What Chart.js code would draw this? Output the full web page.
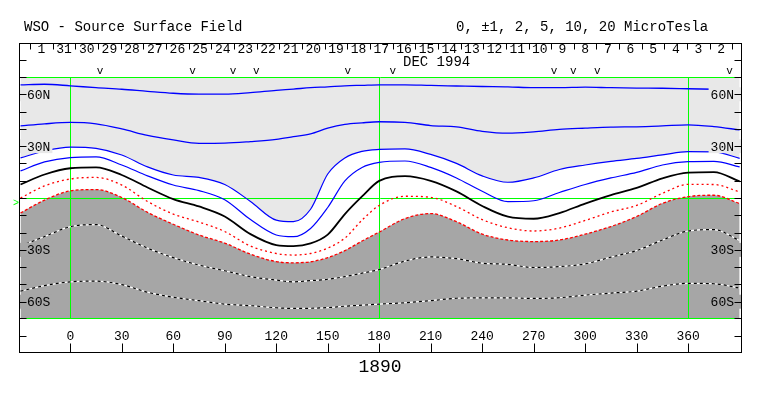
<!DOCTYPE html>
<html>
<head>
<meta charset="utf-8">
<script src="https://cdn.jsdelivr.net/npm/chart.js@4/dist/chart.umd.min.js"></script>
<style>
html, body { margin: 0; padding: 0; background: #fff; }
canvas { display: block; }
</style>
</head>
<body>
<canvas id="myChart" width="763" height="396"></canvas>
<script>
var lon = [-29, -15, 0, 15, 30, 45, 60, 75, 90, 105, 120, 130, 140, 150, 160, 170, 180,
           195, 210, 225, 240, 255, 270, 285, 300, 315, 330, 345, 360, 375, 390];

// Contour latitudes (degrees), north to south
var blueA = [65.5, 65.8, 64.9, 63.8, 62.9, 61.7, 60.6, 60.1, 60.1, 61.0, 62.3, 63.0, 63.8, 64.3, 64.9, 65.2, 65.5,
             65.5, 65.1, 64.8, 64.5, 64.3, 63.8, 63.8, 64.1, 63.8, 63.6, 63.5, 63.2, 62.9, 62.6];
var blueB = [41.7, 42.9, 43.7, 42.9, 40.0, 36.2, 33.6, 31.6, 31.7, 32.6, 33.9, 35.5, 37.1, 40.4, 42.6, 43.5, 44.1,
             43.8, 41.9, 41.2, 38.6, 37.5, 38.3, 39.7, 40.4, 41.0, 41.2, 41.7, 42.3, 41.3, 39.4];
var blueC = [23.2, 27.2, 29.4, 28.7, 24.9, 18.0, 13.3, 11.9, 7.8, -2.0, -12.8, -13.7, -6.5, 13.9, 23.2, 27.0, 28.1,
             28.4, 25.2, 20.0, 12.8, 9.1, 11.6, 16.5, 19.1, 21.2, 22.9, 24.9, 26.8, 26.7, 22.9];
var blueD = [15.7, 20.9, 23.4, 23.8, 19.1, 12.8, 7.5, 4.3, -1.0, -12.5, -21.4, -22.4, -17.6, -5.5, 9.9, 17.7, 20.6,
             21.4, 17.7, 11.6, 3.9, -2.1, -1.6, 3.2, 7.8, 11.6, 14.8, 19.1, 21.0, 21.2, 18.0];
var neutral = [7.8, 13.6, 17.2, 17.7, 13.3, 6.1, -0.6, -4.9, -10.7, -20.9, -27.2, -27.8, -26.3, -21.2, -9.3, 0.9, 9.9,
               12.6, 9.9, 3.8, -4.6, -10.8, -12.0, -8.7, -3.2, 1.7, 5.8, 11.4, 14.7, 15.0, 9.6];
var redA = [0.0, 7.0, 11.0, 11.9, 7.5, -2.0, -9.3, -13.9, -19.4, -27.8, -32.1, -33.0, -32.1, -29.0, -23.2, -12.8, -4.3,
            1.0, 0.4, -4.9, -12.5, -17.2, -19.1, -17.4, -13.0, -8.1, -4.3, 2.7, 7.9, 7.8, 3.5];
var redB = [-8.7, -1.2, 4.1, 4.9, 0.3, -8.3, -15.2, -21.4, -26.1, -32.5, -36.8, -37.5, -36.9, -34.5, -30.4, -24.9, -19.7,
            -11.9, -9.0, -13.7, -20.9, -24.3, -25.2, -24.3, -20.9, -16.5, -10.7, -3.1, 0.8, 1.6, -3.2];
var southA = [-27.8, -22.3, -16.6, -15.4, -22.0, -29.0, -34.5, -38.8, -42.1, -45.5, -47.5, -48.5, -47.8, -47.0, -45.5, -43.5, -41.4,
              -36.5, -34.1, -35.1, -37.7, -38.4, -40.2, -39.7, -38.1, -34.2, -30.4, -24.3, -19.1, -18.3, -24.6];
var southB = [-53.9, -50.7, -48.5, -48.1, -50.1, -54.5, -57.4, -59.4, -61.4, -62.3, -63.5, -63.9, -63.8, -63.4, -62.6, -62.0, -61.4,
              -60.6, -59.4, -58.0, -57.8, -57.8, -58.1, -57.7, -56.2, -55.0, -53.9, -51.0, -49.4, -49.6, -52.1];

// observation markers ("v") along the top
var markLon = [17.3, 71.2, 94.8, 108.4, 161.7, 187.9, 281.9, 293.1, 307.1, 384.1];

// day-of-month labels for the rotation (right to left in time)
var dayLabels = ['1', '31', '30', '29', '28', '27', '26', '25', '24', '23', '22', '21', '20', '19', '18', '17',
                 '16', '15', '14', '13', '12', '11', '10', '9', '8', '7', '6', '5', '4', '3', '2'];
var dayStartLon = -23.4;
var dayWidth = 13.2;

var lonTicks = [0, 30, 60, 90, 120, 150, 180, 210, 240, 270, 300, 330, 360];
var latLabels = ['60N', '30N', '30S', '60S'];
var latLabelVals = [60, 30, -30, -60];
var gridLon = [0, 180, 360];
var gridLat = [70, 0, -70];

var LIGHT = '#e8e8e8';
var DARK = '#a6a6a6';
var MONO = '"Liberation Mono", "DejaVu Sans Mono", monospace';

function pts(lat) {
    return lon.map(function(l, i) { return { x: l, y: lat[i] }; });
}

function contour(lat, color, width, dash, fill, bg) {
    return {
        data: pts(lat),
        borderColor: color,
        borderWidth: width,
        borderDash: dash || [],
        fill: fill || false,
        backgroundColor: bg || 'transparent',
        pointRadius: 0,
        cubicInterpolationMode: 'monotone'
    };
}

var decor = {
    id: 'decor',
    beforeDatasetsDraw: function(chart) {
        var ctx = chart.ctx, xs = chart.scales.x, ys = chart.scales.y, a = chart.chartArea;
        ctx.save();
        ctx.strokeStyle = '#00ff00';
        ctx.lineWidth = 1;
        ctx.beginPath();
        gridLon.forEach(function(v) {
            var px = Math.round(xs.getPixelForValue(v)) + 0.5;
            ctx.moveTo(px, a.top); ctx.lineTo(px, a.bottom);
        });
        gridLat.forEach(function(v) {
            var py = Math.round(ys.getPixelForValue(v)) + 0.5;
            py = Math.min(Math.max(py, a.top + 0.5), a.bottom - 0.5);
            ctx.moveTo(a.left, py); ctx.lineTo(a.right, py);
        });
        ctx.stroke();
        ctx.restore();
    },
    afterDraw: function(chart) {
        var ctx = chart.ctx, xs = chart.scales.x, ys = chart.scales.y, a = chart.chartArea;
        var L = a.left - 0.5, R = a.right + 0.5, T = 43.5, B = 352.5;
        ctx.save();

        // latitude labels with masks, both sides
        ctx.font = '13px ' + MONO;
        ctx.textBaseline = 'middle';
        latLabels.forEach(function(t, i) {
            var py = ys.getPixelForValue(latLabelVals[i]);
            var w = ctx.measureText(t).width;
            ctx.fillStyle = latLabelVals[i] > 0 ? LIGHT : DARK;
            ctx.fillRect(a.left, py - 7, w + 9, 14);
            ctx.fillRect(a.right - w - 9, py - 7, w + 9, 14);
            ctx.fillStyle = '#000';
            ctx.textAlign = 'left';
            ctx.fillText(t, a.left + 7, py + 1);
            ctx.textAlign = 'right';
            ctx.fillText(t, a.right - 7, py + 1);
        });

        // frame
        ctx.strokeStyle = '#000';
        ctx.lineWidth = 1;
        ctx.strokeRect(L, T, R - L, B - T);

        ctx.beginPath();
        // latitude ticks every 10 degrees
        for (var lat = -70; lat <= 70; lat += 10) {
            var py = Math.round(ys.getPixelForValue(lat)) + 0.5;
            py = Math.min(Math.max(py, a.top + 0.5), a.bottom - 0.5);
            ctx.moveTo(L, py); ctx.lineTo(L + 7, py);
            ctx.moveTo(R, py); ctx.lineTo(R - 7, py);
        }
        // small ticks in the top and bottom bands
        [60.5, 336.5].forEach(function(py) {
            ctx.moveTo(L, py); ctx.lineTo(L + 7, py);
            ctx.moveTo(R, py); ctx.lineTo(R - 7, py);
        });
        // day boundaries on top
        for (var k = 0; k <= dayLabels.length; k++) {
            var px = Math.round(xs.getPixelForValue(dayStartLon + k * dayWidth)) + 0.5;
            ctx.moveTo(px, T); ctx.lineTo(px, T + 6);
        }
        // longitude ticks at the bottom
        lonTicks.forEach(function(v) {
            var px = Math.round(xs.getPixelForValue(v)) + 0.5;
            ctx.moveTo(px, B); ctx.lineTo(px, B - 9);
        });
        ctx.stroke();

        ctx.fillStyle = '#000';
        ctx.textAlign = 'center';
        ctx.textBaseline = 'middle';
        ctx.font = '13px ' + MONO;
        dayLabels.forEach(function(t, k) {
            var px = xs.getPixelForValue(dayStartLon + (k + 0.5) * dayWidth);
            ctx.fillText(t, px, 50);
        });
        lonTicks.forEach(function(v) {
            ctx.fillText(String(v), xs.getPixelForValue(v), 337);
        });

        ctx.font = '11px ' + MONO;
        ctx.textBaseline = 'bottom';
        markLon.forEach(function(v) {
            ctx.fillText('v', xs.getPixelForValue(v), 77);
        });

        ctx.textAlign = 'left';
        ctx.textBaseline = 'middle';
        ctx.font = '14px ' + MONO;
        ctx.fillText('DEC 1994', 403, 62);
        ctx.fillText('WSO - Source Surface Field', 24, 27);
        ctx.fillText('0, \u00b11, 2, 5, 10, 20 MicroTesla', 456, 27);

        ctx.textAlign = 'center';
        ctx.font = '18px ' + MONO;
        ctx.fillText('1890', 380, 367);

        ctx.fillStyle = '#00ff00';
        ctx.font = '10px ' + MONO;
        ctx.textAlign = 'left';
        ctx.fillText('>', 13, 203);

        ctx.restore();
    }
};

var ctx = document.getElementById('myChart').getContext('2d');
var myChart = new Chart(ctx, {
    type: 'line',
    data: {
        datasets: [
            contour(blueA, '#0000ff', 1.3),
            contour(blueB, '#0000ff', 1.3),
            contour(blueC, '#0000ff', 1.2, null, 'end', LIGHT),
            contour(blueD, '#0000ff', 1.2),
            contour(neutral, '#000000', 1.8),
            contour(redA, '#ff0000', 1.3, [2, 3]),
            contour(redB, '#ff0000', 1.3, [3, 2], 'start', DARK),
            contour(southA, '#000000', 1.2, [3, 3]),
            contour(southA, '#ffffff', 1.2),
            contour(southB, '#000000', 1.2, [3, 3]),
            contour(southB, '#ffffff', 1.2)
        ]
    },
    plugins: [decor],
    options: {
        responsive: false,
        animation: false,
        layout: { padding: { left: 20, right: 22, top: 77, bottom: 77 } },
        scales: {
            x: { type: 'linear', min: -29.3, max: 390.8, display: false },
            y: { type: 'linear', min: -70, max: 70, display: false }
        },
        plugins: {
            legend: { display: false },
            tooltip: { enabled: false },
            filler: { drawTime: 'beforeDatasetsDraw' }
        }
    }
});
</script>
</body>
</html>
